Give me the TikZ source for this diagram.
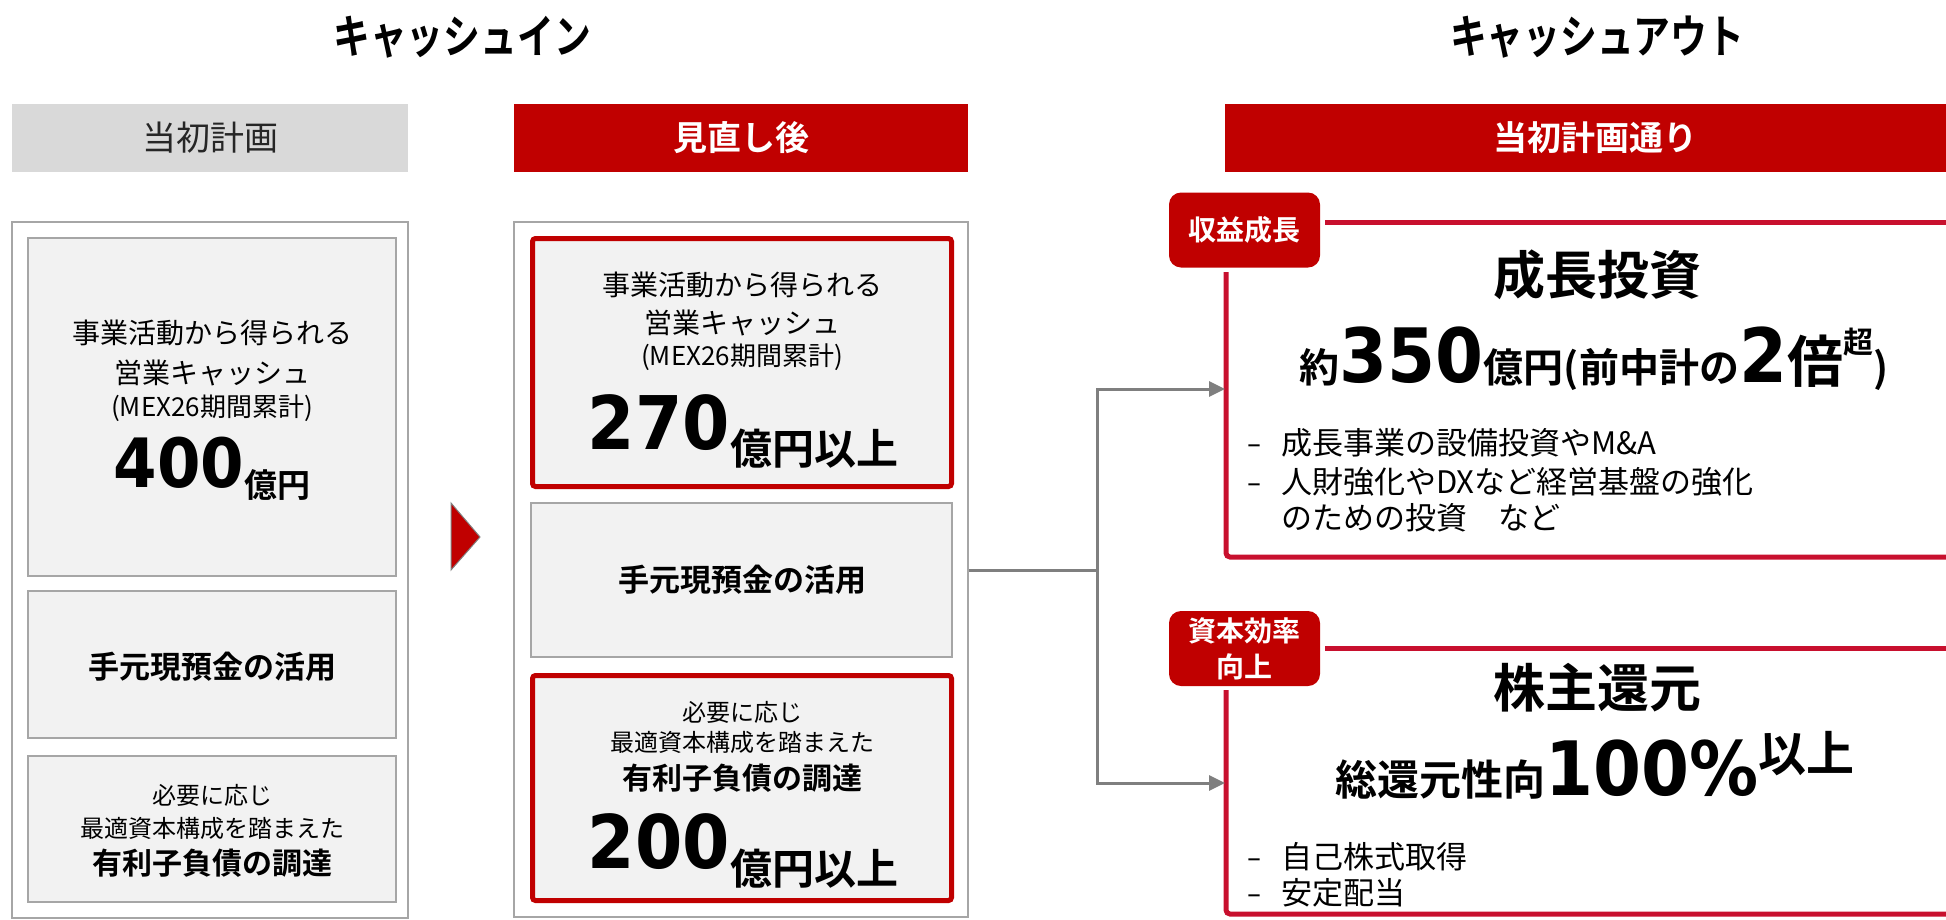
\documentclass[tikz,border=0pt]{standalone}
\usepackage{fontspec}
\setmainfont{Noto Sans CJK JP}[BoldFont={Noto Sans CJK JP Bold}]
\newfontfamily\numf{DejaVu Sans Bold}[FakeStretch=0.92]
\newfontfamily\dashf{DejaVu Sans}
\newfontfamily\titlef{Noto Sans CJK JP Bold}[FakeStretch=0.8]
\usetikzlibrary{arrows.meta}
\definecolor{hdred}{HTML}{C00000}
\definecolor{lnred}{RGB}{200,16,46}
\definecolor{boxgray}{HTML}{F2F2F2}
\definecolor{edgegray}{HTML}{A6A6A6}
\definecolor{hdgray}{HTML}{D9D9D9}
\definecolor{conngray}{HTML}{7F7F7F}
\newcommand\myfs[1]{\fontsize{#1}{#1}\selectfont}
\begin{document}
\begin{tikzpicture}[x=1pt,y=-1pt,
  hdr/.style={rectangle, inner sep=0pt, minimum height=68pt},
  outerbox/.style={draw=edgegray, line width=1.5pt, fill=white, inner sep=0pt},
  innerbox/.style={draw=edgegray, line width=1.5pt, fill=boxgray, inner sep=0pt},
  redbox/.style={draw=hdred, line width=5pt, fill=boxgray, rounded corners=3pt, inner sep=0pt},
  txt/.style={inner sep=0pt, align=center},
  dashmark/.style={inner sep=0pt, anchor=base, font=\dashf\myfs{28}},
  tag/.style={fill=hdred, rounded corners=12pt, inner sep=0pt, minimum width=151pt, minimum height=75pt, text=white, font=\bfseries\fontsize{28}{36}\selectfont, align=center},
  conn/.style={draw=conngray, line width=3pt},
  rline/.style={draw=lnred, line width=5pt, rounded corners=4pt},
  tip/.style={-{Triangle[length=16pt,width=15pt]}},
]
\useasboundingbox (0,0) rectangle (1946,919);

% titles
\node[txt, font=\titlef\myfs{46}] (tin) at (462,37) {キャッシュイン};
\node[txt, font=\titlef\myfs{46}] (tout) at (1597,37) {キャッシュアウト};

% headers
\node[hdr, fill=hdgray, minimum width=396pt, text=black!85, font=\myfs{34}] (h1) at (210,138) {当初計画};
\node[hdr, fill=hdred, minimum width=454pt, text=white, font=\bfseries\myfs{34}] (h2) at (741,138) {見直し後};
\node[hdr, fill=hdred, minimum width=740pt, text=white, font=\bfseries\myfs{34}] (h3) at (1595,138) {当初計画通り};

% outer boxes
\node[outerbox, minimum width=396pt, minimum height=696pt] (lout) at (210,570) {};
\node[outerbox, minimum width=454pt, minimum height=695pt] (mout) at (741,569.5) {};

% left inner boxes
\node[innerbox, minimum width=368pt, minimum height=338pt] (lb1) at (212,407) {};
\node[innerbox, minimum width=368pt, minimum height=147pt] (lb2) at (212,664.5) {};
\node[innerbox, minimum width=368pt, minimum height=146pt] (lb3) at (212,829) {};

% middle boxes
\node[redbox, minimum width=419pt, minimum height=248pt] (mb1) at (742,362.5) {};
\node[innerbox, minimum width=421pt, minimum height=154pt] (mb2) at (741.5,580) {};
\node[redbox, minimum width=419pt, minimum height=225pt] (mb3) at (742,788) {};

% left box texts
\node[txt, font=\myfs{28}] (l1a) at (212,333) {事業活動から得られる};
\node[txt, font=\myfs{28}] (l1b) at (212,373) {営業キャッシュ};
\node[txt, font=\myfs{26}] (l1c) at (212,408) {(MEX26期間累計)};
\node[txt, anchor=base] (l1d) at (212,487) {{\numf\myfs{68}400}\raisebox{-10pt}{\bfseries\myfs{33}億円}};
\node[txt, font=\bfseries\myfs{31}] (l2a) at (212,667) {手元現預金の活用};
\node[txt, font=\myfs{24}] (l3a) at (212,795) {必要に応じ};
\node[txt, font=\myfs{24}] (l3b) at (212,828) {最適資本構成を踏まえた};
\node[txt, font=\bfseries\myfs{30}] (l3c) at (212,863) {有利子負債の調達};

% middle box texts
\node[txt, font=\myfs{28}] (m1a) at (742,285) {事業活動から得られる};
\node[txt, font=\myfs{28}] (m1b) at (742,323) {営業キャッシュ};
\node[txt, font=\myfs{26}] (m1c) at (742,357) {(MEX26期間累計)};
\node[txt, anchor=base] (m1d) at (743,449) {{\numf\myfs{74}270}\raisebox{-15pt}{\bfseries\myfs{42}億円以上}};
\node[txt, font=\bfseries\myfs{31}] (m2a) at (742,580) {手元現預金の活用};
\node[txt, font=\myfs{24}] (m3a) at (742,712) {必要に応じ};
\node[txt, font=\myfs{24}] (m3b) at (742,742) {最適資本構成を踏まえた};
\node[txt, font=\bfseries\myfs{30}] (m3c) at (742,778) {有利子負債の調達};
\node[txt, anchor=base] (m3d) at (743,868) {{\numf\myfs{74}200}\raisebox{-16pt}{\bfseries\myfs{42}億円以上}};

% transition triangle
\draw[fill=hdred, draw=gray, line width=1pt] (451,503) -- (451,570) -- (480,537) -- cycle;

% right box frames
\draw[rline] (1325,222) -- (1955,222);
\draw[rline] (1226,272) -- (1226,557) -- (1955,557);
\draw[rline] (1325,648) -- (1955,648);
\draw[rline] (1226,690) -- (1226,914) -- (1955,914);

% tags
\node[tag] (tag1) at (1244.5,230) {収益成長};
\node[tag] (tag2) at (1244.5,648.5) {資本効率\\向上};

% right box 1 texts
\node[txt, font=\bfseries\myfs{52}] (r1h) at (1597,275) {成長投資};
\node[txt, anchor=base] (r1v) at (1594,382) {\bfseries\myfs{40}約{\mdseries\numf\myfs{75}350}億円(前中計の{\mdseries\numf\myfs{75}2}{\myfs{56}倍}\raisebox{29pt}{\myfs{30}超})};
\node[dashmark] (r1d1) at (1254,453) {–};
\node[txt, font=\myfs{31}, anchor=west] (r1b1) at (1281,443) {成長事業の設備投資やM\&A};
\node[dashmark] (r1d2) at (1254,492) {–};
\node[txt, font=\myfs{31}, anchor=west] (r1b2) at (1281,482) {人財強化やDXなど経営基盤の強化};
\node[txt, font=\myfs{31}, anchor=west] (r1b3) at (1281,518) {のための投資　など};

% right box 2 texts
\node[txt, font=\bfseries\myfs{52}] (r2h) at (1597,688) {株主還元};
\node[txt, anchor=base] (r2v) at (1595,795) {\bfseries\myfs{42}総還元性向{\mdseries\numf\myfs{75}100\%}\raisebox{24pt}{\myfs{48}以上}};
\node[dashmark] (r2d1) at (1254,867) {–};
\node[txt, font=\myfs{31}, anchor=west] (r2b1) at (1281,857) {自己株式取得};
\node[dashmark] (r2d2) at (1254,903) {–};
\node[txt, font=\myfs{31}, anchor=west] (r2b2) at (1281,893) {安定配当};

% connectors
\coordinate (branch) at (1097,570);
\coordinate (rin1) at (1225,389);
\coordinate (rin2) at (1225,783);
\draw[conn] (mout.east |- branch) -- (branch);
\draw[conn, tip] (branch) |- (rin1);
\draw[conn, tip] (branch) |- (rin2);
\end{tikzpicture}
\end{document}
